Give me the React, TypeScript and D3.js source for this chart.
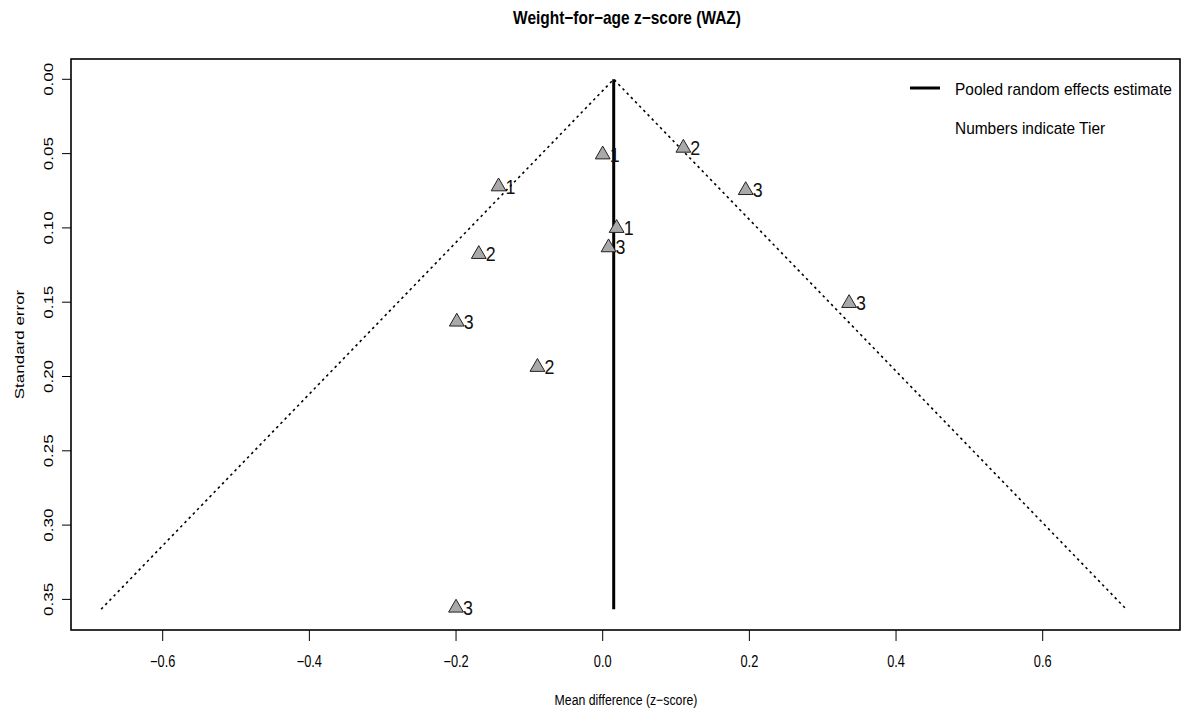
import React from "react";
import * as d3 from "d3";

const title = "Weight\u2212for\u2212age z\u2212score (WAZ)";
const xTitle = "Mean difference (z\u2212score)";
const yTitle = "Standard error";
const xTicks = [-0.6, -0.4, -0.2, 0.0, 0.2, 0.4, 0.6];
const xTickLabels = ["\u22120.6", "\u22120.4", "\u22120.2", "0.0", "0.2", "0.4", "0.6"];
const yTicks = [0.0, 0.05, 0.1, 0.15, 0.2, 0.25, 0.3, 0.35];
const yTickLabels = ["0.00", "0.05", "0.10", "0.15", "0.20", "0.25", "0.30", "0.35"];

const effect = [0.0, 0.110, -0.142, 0.195, 0.019, 0.008, -0.169, -0.199, -0.089, 0.336, -0.200];
const stdErr = [0.050, 0.0455, 0.0715, 0.074, 0.0995, 0.1125, 0.117, 0.1625, 0.193, 0.150, 0.355];
const tier = ["1", "2", "1", "3", "1", "3", "2", "3", "2", "3", "3"];

const pooled = 0.015;
const seMax = 0.3566;
const legendItems = ["Pooled random effects estimate", "Numbers indicate Tier"];

const FONT = "'Liberation Sans', Arial, Helvetica, sans-serif";
const SX = 0.8;

export default function App() {
  const W = 1182, H = 715;
  const box = { left: 71, right: 1180, top: 59, bottom: 630 };
  const x = d3.scaleLinear().domain([-0.6, 0.6]).range([162.7, 1042.7]);
  const y = d3.scaleLinear().domain([0, 0.35]).range([79.3, 599.4]);
  const line = d3.line<[number, number]>().x(d => x(d[0])).y(d => y(d[1]));
  const funnel: [number, number][] = [
    [pooled - 1.96 * seMax, seMax],
    [pooled, 0],
    [pooled + 1.96 * seMax, seMax],
  ];
  const tri = d3.symbol().type(d3.symbolTriangle).size(95)();
  return (
    <svg width={W} height={H} style={{ position: "absolute", left: 0, top: 0, background: "#fff" }}
      fontFamily={FONT}>
      <rect x={0} y={0} width={W} height={H} fill="#fff" />
      <text transform={`translate(627,24) scale(0.86,1)`} textAnchor="middle" fontWeight="bold" fontSize={18}>{title}</text>
      {/* funnel */}
      <path d={line(funnel) || ""} fill="none" stroke="#000" strokeWidth={1.6} strokeDasharray="2.5,3.5" />
      {/* pooled */}
      <line x1={x(pooled)} x2={x(pooled)} y1={y(0)} y2={y(seMax)} stroke="#000" strokeWidth={3} />
      {/* points */}
      {effect.map((e, i) => (
        <g key={i}>
          <path d={tri || ""} transform={`translate(${x(e)},${y(stdErr[i]) + 1})`} fill="#a9a9a9" stroke="#222" strokeWidth={1} />
          <text transform={`translate(${x(e) + 7},${y(stdErr[i]) + 8}) scale(0.85,1)`} fontSize={21} fill="#111">{tier[i]}</text>
        </g>
      ))}
      {/* box */}
      <rect x={box.left} y={box.top} width={box.right - box.left} height={box.bottom - box.top}
        fill="none" stroke="#000" strokeWidth={1.6} />
      {/* x axis */}
      {xTicks.map((t, i) => (
        <g key={t}>
          <line x1={x(t)} x2={x(t)} y1={box.bottom} y2={box.bottom + 11} stroke="#000" strokeWidth={1} />
          <text transform={`translate(${x(t)},667) scale(${SX},1)`} textAnchor="middle" fontSize={16}>{xTickLabels[i]}</text>
        </g>
      ))}
      <text transform={`translate(626,705) scale(0.82,1)`} textAnchor="middle" fontSize={15}>{xTitle}</text>
      {/* y axis */}
      {yTicks.map((t, i) => (
        <g key={t}>
          <line x1={box.left - 9} x2={box.left} y1={y(t)} y2={y(t)} stroke="#000" strokeWidth={1} />
          <text transform={`translate(53,${y(t)}) scale(${SX},1) rotate(-90)`} textAnchor="middle" fontSize={17}>{yTickLabels[i]}</text>
        </g>
      ))}
      <text transform={`translate(24,${(box.top + box.bottom) / 2}) scale(${SX},1) rotate(-90)`} textAnchor="middle" fontSize={17}>{yTitle}</text>
      {/* legend */}
      <line x1={910} x2={940} y1={88} y2={88} stroke="#000" strokeWidth={3} />
      {legendItems.map((s, i) => (
        <text key={s} transform={`translate(955,${95 + i * 39}) scale(0.965,1)`} fontSize={16}>{s}</text>
      ))}
    </svg>
  );
}
